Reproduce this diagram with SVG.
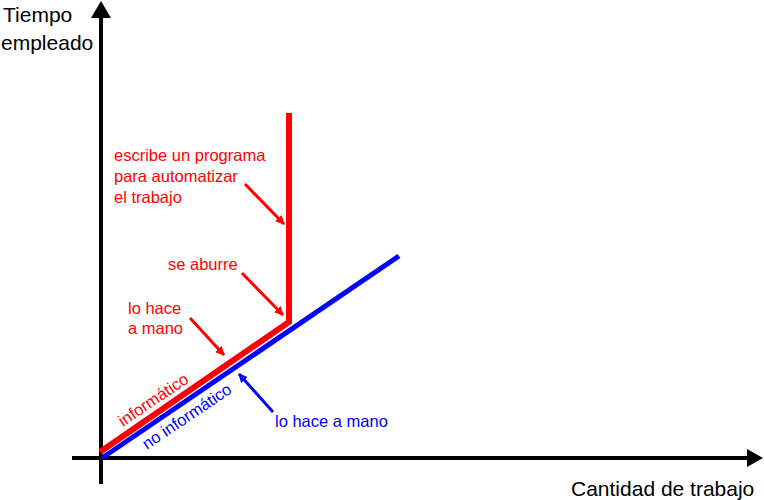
<svg xmlns="http://www.w3.org/2000/svg" width="764" height="500" viewBox="0 0 764 500">
<style>
text{font-family:"Liberation Sans",Arial,sans-serif}
.lab{font-size:21px;fill:#000}
.red{font-size:16.5px;fill:#ff0000}
.blue{font-size:16.5px;fill:#0000ff}
.ar{stroke:#ff0000;stroke-width:3;fill:none}
.ab{stroke:#0000ff;stroke-width:3;fill:none}
</style>
<defs>
<marker id="mr" viewBox="0 0 10 10" refX="9" refY="5" markerWidth="3" markerHeight="3" orient="auto" markerUnits="strokeWidth"><path d="M0,0L10,5L0,10z" fill="#ff0000"/></marker>
<marker id="mb" viewBox="0 0 10 10" refX="9" refY="5" markerWidth="3" markerHeight="3" orient="auto" markerUnits="strokeWidth"><path d="M0,0L10,5L0,10z" fill="#0000ff"/></marker>
</defs>
<g id="axes">
<line x1="101" y1="484" x2="101" y2="15" stroke="#000" stroke-width="4"/>
<path d="M101,1L91,18L111,18z" fill="#000"/>
<line x1="72" y1="458" x2="748" y2="458" stroke="#000" stroke-width="4"/>
<path d="M763,458L747,449L747,467z" fill="#000"/>
</g>
<g id="lines">
<polyline points="100,452 289,322 289,113" fill="none" stroke="#ff0000" stroke-width="6"/>
<line x1="102" y1="458" x2="399" y2="256" stroke="#0000ff" stroke-width="5"/>
</g>
<g id="connectors">
<line class="ar" x1="245" y1="184" x2="284" y2="224" marker-end="url(#mr)"/>
<line class="ar" x1="242" y1="273" x2="283" y2="315" marker-end="url(#mr)"/>
<line class="ar" x1="190" y1="318" x2="224" y2="355" marker-end="url(#mr)"/>
<line class="ab" x1="273" y1="412" x2="239" y2="374" marker-end="url(#mb)"/>
</g>
<g id="labels">
<text class="lab" x="3" y="22">Tiempo</text>
<text class="lab" x="1" y="50">empleado</text>
<text class="lab" x="571" y="496">Cantidad de trabajo</text>
<text class="red" x="114" y="161">escribe un programa</text>
<text class="red" x="114" y="182">para automatizar</text>
<text class="red" x="114" y="203">el trabajo</text>
<text class="red" x="168" y="270">se aburre</text>
<text class="red" x="128" y="314">lo hace</text>
<text class="red" x="128" y="334">a mano</text>
<text class="blue" x="275" y="427">lo hace a mano</text>
<text class="red" font-size="17.5" transform="translate(123,427) rotate(-34)">informático</text>
<text class="blue" font-size="17.5" transform="translate(147,450) rotate(-34)">no informático</text>
</g>
</svg>
